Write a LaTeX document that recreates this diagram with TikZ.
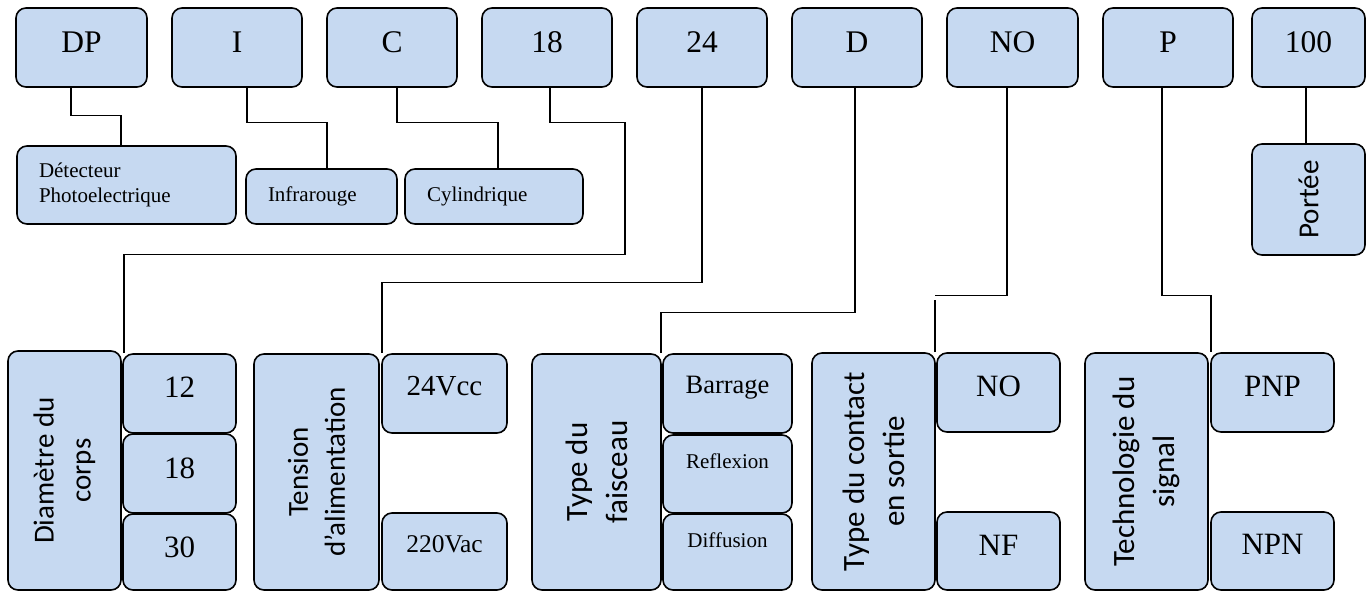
\documentclass[tikz,border=0pt]{standalone}
\usepackage{fontspec}
\setmainfont{Liberation Serif}
\newfontfamily\calib{Carlito}
\definecolor{boxblue}{HTML}{C6D9F1}
\begin{document}
\begin{tikzpicture}[x=1pt, y=-1pt,
    cellbox/.style={draw=black, fill=boxblue, line width=1.6pt, rounded corners=10pt, inner sep=0pt},
    codebox/.style={cellbox, minimum width=130pt, font=\fontsize{31.5}{36}\selectfont,
                    text height=44pt, text depth=35pt},
    optbox/.style={cellbox, minimum width=123pt, font=\fontsize{31}{36}\selectfont,
                   text height=43pt, text depth=36pt},
    descbox/.style={cellbox, align=left, inner xsep=22pt, font=\fontsize{21}{25}\selectfont},
    vsmall/.style={cellbox, rotate=90, align=center, font=\calib\fontsize{29}{37}\selectfont},
    vlarge/.style={cellbox, rotate=90, align=center, font=\calib\fontsize{31}{40}\selectfont},
    wire/.style={line width=1.3pt}]
  \useasboundingbox (0,0) rectangle (1370,592);

  % --- Ligne du haut : la reference ---
  \node[codebox, minimum width=131pt] (dp) at (81.5,47.5) {DP};
  \node[codebox] (ii)  at (237,47.5)  {I};
  \node[codebox] (cc)  at (392,47.5)  {C};
  \node[codebox] (d18) at (547,47.5)  {18};
  \node[codebox] (d24) at (702,47.5)  {24};
  \node[codebox] (dd)  at (857,47.5)  {D};
  \node[codebox, minimum width=131pt] (no) at (1012.5,47.5) {NO};
  \node[codebox] (pp)  at (1168,47.5) {P};
  \node[codebox, minimum width=113pt] (p100) at (1308.5,47.5) {100};

  % --- Ligne du milieu ---
  \node[descbox, text width=175pt, minimum height=78pt] (det) at (126.5,185)
    {Détecteur\\Photoelectrique};
  \node[descbox, text width=107pt, minimum height=55pt] (inf) at (321.5,196.5) {Infrarouge};
  \node[descbox, text width=134pt, minimum height=55pt] (cyl) at (494,196.5) {Cylindrique};
  \node[vsmall, minimum width=111pt, minimum height=113pt] (portee) at (1308.5,199.5) {Portée};

  % --- Diametre du corps ---
  \node[vsmall, minimum width=239pt, minimum height=113pt] (diam) at (64.5,470.5) {Diamètre du\\corps};
  \node[optbox, minimum width=113pt] (b12) at (179.5,393.5) {12};
  \node[optbox, minimum width=113pt, text height=44pt, text depth=35pt] (b18) at (179.5,473.5) {18};
  \node[optbox, minimum width=113pt, text depth=33pt] (b30) at (179.5,552) {30};

  % --- Tension d'alimentation ---
  \node[vsmall, minimum width=236pt, minimum height=125pt] (tens) at (316.5,472) {Tension\\d’alimentation};
  \node[optbox, minimum width=125pt, text height=41pt, text depth=38pt,
        font=\fontsize{29}{34}\selectfont] (v24) at (444.5,393.5) {24Vcc};
  \node[optbox, minimum width=125pt, text height=39pt, text depth=38pt,
        font=\fontsize{25.5}{30}\selectfont] (v220) at (444.5,551.5) {220Vac};

  % --- Type du faisceau ---
  \node[vlarge, minimum width=236pt, minimum height=129pt] (fais) at (596.5,472) {Type du\\faisceau};
  \node[optbox, minimum width=129pt, text height=39pt, text depth=40pt,
        font=\fontsize{26.5}{30}\selectfont] (barr) at (727.5,393.5) {Barrage};
  \node[optbox, minimum width=129pt, text height=33pt, text depth=45pt,
        font=\fontsize{21}{25}\selectfont] (refl) at (727.5,474) {Reflexion};
  \node[optbox, minimum width=129pt, text height=33pt, text depth=43pt,
        font=\fontsize{21}{25}\selectfont] (diff) at (727.5,552) {Diffusion};

  % --- Type du contact ---
  \node[vlarge, minimum width=237pt, minimum height=123pt] (cont) at (873.5,471.5) {Type du contact\\en sortie};
  \node[optbox] (sno) at (998.5,392.5) {NO};
  \node[optbox, text depth=35pt] (snf) at (998.5,551) {NF};

  % --- Technologie du signal ---
  \node[vlarge, minimum width=237pt, minimum height=123pt] (tech) at (1146.5,471.5) {Technologie du\\signal};
  \node[optbox] (pnp) at (1272.5,392.5) {PNP};
  \node[optbox, text height=42pt, text depth=36pt] (npn) at (1272.5,551) {NPN};

  % --- Liaisons ---
  \draw[wire] ([xshift=-10.5pt]dp.south) -- ++(0,28) -| ([xshift=-5.5pt]det.north);
  \draw[wire] ([xshift=10pt]ii.south) -- ++(0,35) -| ([xshift=5.5pt]inf.north);
  \draw[wire] ([xshift=5pt]cc.south) -- ++(0,35) -| ([xshift=4pt]cyl.north);
  \draw[wire] ([xshift=3pt]d18.south) -- ++(0,35) -- ++(75,0) -- ++(0,132)
    -| ([xshift=-55.5pt]b12.north);
  \draw[wire] (d24.south) -- ++(0,195) -| ([xshift=-62.5pt]v24.north);
  \draw[wire] ([xshift=-2pt]dd.south) -- ++(0,225) -| ([xshift=-66.5pt]barr.north);
  \draw[wire] ([xshift=-5.5pt]no.south) -- ++(0,208) -- ++(-72,0);
  \draw[wire] ([xshift=-63.5pt]sno.north) -- ++(0,-52);
  \draw[wire] ([xshift=-6pt]pp.south) -- ++(0,208) -| ([xshift=-61.5pt]pnp.north);
  \draw[wire] ([xshift=-2.5pt]p100.south) -- ([xshift=-2.5pt]p100.south |- portee.east);
\end{tikzpicture}
\end{document}
